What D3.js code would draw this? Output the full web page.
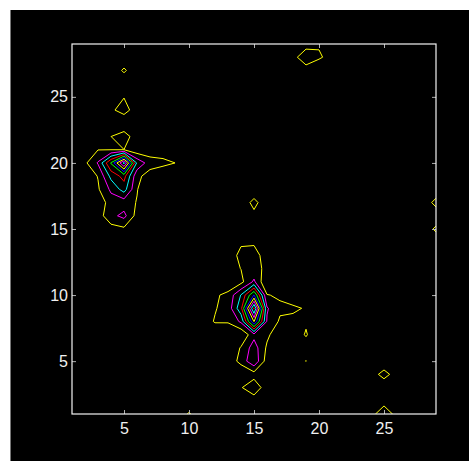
<!DOCTYPE html>
<html>
<head>
<meta charset="utf-8">
<script src="https://cdn.jsdelivr.net/npm/d3@7"></script>
<style>
  body { margin: 0; background: #fff; }
  svg { display: block; }
  .tick text { font-family: "Liberation Sans Narrow", "Arial Narrow", "Liberation Sans", sans-serif; font-size: 16px; fill: #f0f0f0; }
</style>
</head>
<body>
<script>
var W = 469, H = 461;

var xTicks = [5, 10, 15, 20, 25];
var yTicks = [5, 10, 15, 20, 25];
var levels = [1, 2, 3, 4, 5, 6, 7, 8, 9, 10];
var levelColors = ['#ffff00', '#ff00ff', '#00ffff', '#ff0000', '#00ff00',
                   '#0000ff', '#ffff00', '#ff00ff', '#00ffff', '#ff0000'];
var nx = 29, ny = 29;

// grid cells [x, y, value], everything else is 0
var peakA = [
  [4, 24, 0.78], [5, 24, 1.5], [6, 24, 0.35], [5, 25, 0.95],
  [5, 27, 1.22],
  [4, 22, 0.995], [5, 22, 1.6], [6, 22, 0.3],
  [2, 21, 0.3], [3, 21, 0.98], [4, 21, 0.99], [5, 21, 0.99], [6, 21, 0.3], [7, 21, 0.43], [8, 21, 0.49],
  [2, 20, 0.8], [3, 20, 2.1], [4, 20, 5.1], [5, 20, 9.3], [6, 20, 2.8], [7, 20, 1.47], [8, 20, 1.25], [9, 20, 0.98],
  [2, 19, 0.3], [3, 19, 1.05], [4, 19, 3.3], [5, 19, 4.37], [6, 19, 1.27], [7, 19, 0.53], [8, 19, 0.25],
  [2, 18, 0.2], [3, 18, 0.87], [4, 18, 2.2], [5, 18, 3.44], [6, 18, 1.05], [7, 18, 0.2],
  [3, 17, 0.3], [4, 17, 1.5], [5, 17, 1.44], [6, 17, 0.95],
  [3, 16, 0.51], [4, 16, 1.7], [5, 16, 2.3], [6, 16, 0.6],
  [4, 15, 0.6], [5, 15, 0.8], [6, 15, 0.2]
];

var peakB = [
  [15, 17, 1.45], [15, 16, 0.6], [15, 15, 0.3],
  [14, 14, 0.95], [15, 14, 0.95],
  [13, 13, 0.8], [14, 13, 1.1], [15, 13, 1.15], [16, 13, 0.82],
  [13, 12, 0.6], [14, 12, 1.02], [15, 12, 1.25], [16, 12, 0.83],
  [13, 11, 0.3], [14, 11, 0.7], [15, 11, 2.2],
  [12, 10, 0.85], [13, 10, 1.25], [14, 10, 3.05], [15, 10, 6.05], [16, 10, 1.05], [17, 10, 0.85],
  [12, 9, 0.93], [13, 9, 1.4], [14, 9, 3.7], [15, 9, 10.2], [16, 9, 2.1], [17, 9, 1.2], [18, 9, 1.3], [19, 9, 0.85],
  [11, 8, 0.5], [12, 8, 1.075], [13, 8, 1.08], [14, 8, 2.19], [15, 8, 7.05], [16, 8, 1.9], [17, 8, 0.85], [18, 8, 0.53], [19, 8, 0.83],
  [12, 7, 0.3], [13, 7, 0.3], [14, 7, 0.1], [15, 7, 1.7], [16, 7, 1.21], [17, 7, 0.3], [18, 7, 0.2], [19, 7, 1.12],
  [14, 6, 1.1], [15, 6, 2.5], [16, 6, 0.83], [19, 6, 0.32],
  [13, 5, 0.25], [14, 5, 1.37], [15, 5, 2.8], [16, 5, 0.5], [19, 5, 1.03],
  [15, 4, 0.58],
  [14, 3, 0.92], [15, 3, 1.72], [16, 3, 0.39], [15, 2, 0.43]
];

var spots = [
  [10, 1, 1.15],
  [25, 4, 1.5], [24, 4, 0.35], [26, 4, 0.35],
  [25, 1, 1.8], [24, 1, 0.57], [26, 1, 0.57], [25, 2, 0.49],
  [29, 17, 1.5], [29, 15, 1.3],
  [19, 28, 1.6], [20, 28, 1.15], [18, 28, 0.7], [19, 29, 0.62], [19, 27, 0.57],
  [21, 28, 0.61], [20, 27, 0.15], [20, 29, 0.88]
];

var values = new Array(nx * ny).fill(0);
peakA.concat(peakB, spots).forEach(function(d) {
  values[(d[1] - 1) * nx + (d[0] - 1)] = d[2];
});

var svg = d3.select('body').append('svg')
  .attr('width', W)
  .attr('height', H);

// figure background
svg.append('rect')
  .attr('x', 10).attr('y', 10)
  .attr('width', W - 10).attr('height', H - 10)
  .attr('fill', '#000');
svg.append('line')
  .attr('x1', 10.5).attr('x2', 10.5)
  .attr('y1', 10).attr('y2', H)
  .attr('stroke', '#777');

var x = d3.scaleLinear().domain([1, 29]).range([72, 436]);
var y = d3.scaleLinear().domain([1, 29]).range([414, 44]);

svg.append('clipPath').attr('id', 'plot')
  .append('rect')
  .attr('x', x(1)).attr('y', y(29))
  .attr('width', x(29) - x(1)).attr('height', y(1) - y(29));

var contours = d3.contours()
  .size([nx, ny])
  .thresholds(levels)(values);

// grid index i sits at contour coordinate i + 0.5, data value i + 1
var proj = d3.geoTransform({
  point: function(px, py) {
    this.stream.point(x(px + 0.5), y(py + 0.5));
  }
});
var path = d3.geoPath(proj);

svg.append('g')
  .attr('clip-path', 'url(#plot)')
  .selectAll('path')
  .data(contours)
  .join('path')
  .attr('d', path)
  .attr('fill', 'none')
  .attr('stroke', function(d, i) { return levelColors[i]; })
  .attr('stroke-width', 1)
  .attr('stroke-linejoin', 'round');

// axes, ticks pointing in
function styleAxis(g) {
  g.select('.domain').remove();
  g.selectAll('.tick line').attr('stroke', '#b0b0b0');
}

svg.append('g')
  .attr('transform', 'translate(0,' + y(1) + ')')
  .call(d3.axisBottom(x).tickValues(xTicks).tickSize(-4).tickSizeOuter(0).tickPadding(9))
  .call(styleAxis);

svg.append('g')
  .attr('transform', 'translate(' + x(1) + ',0)')
  .call(d3.axisLeft(y).tickValues(yTicks).tickSize(-4).tickSizeOuter(0).tickPadding(4))
  .call(styleAxis);

svg.append('g')
  .attr('transform', 'translate(0,' + y(29) + ')')
  .call(d3.axisTop(x).tickValues(xTicks).tickSize(-4).tickSizeOuter(0).tickFormat(''))
  .call(styleAxis);

svg.append('g')
  .attr('transform', 'translate(' + x(29) + ',0)')
  .call(d3.axisRight(y).tickValues(yTicks).tickSize(-4).tickSizeOuter(0).tickFormat(''))
  .call(styleAxis);

svg.append('rect')
  .attr('x', x(1)).attr('y', y(29))
  .attr('width', x(29) - x(1)).attr('height', y(1) - y(29))
  .attr('fill', 'none')
  .attr('stroke', '#f4f4f4')
  .attr('stroke-width', 1.2);
</script>
</body>
</html>
